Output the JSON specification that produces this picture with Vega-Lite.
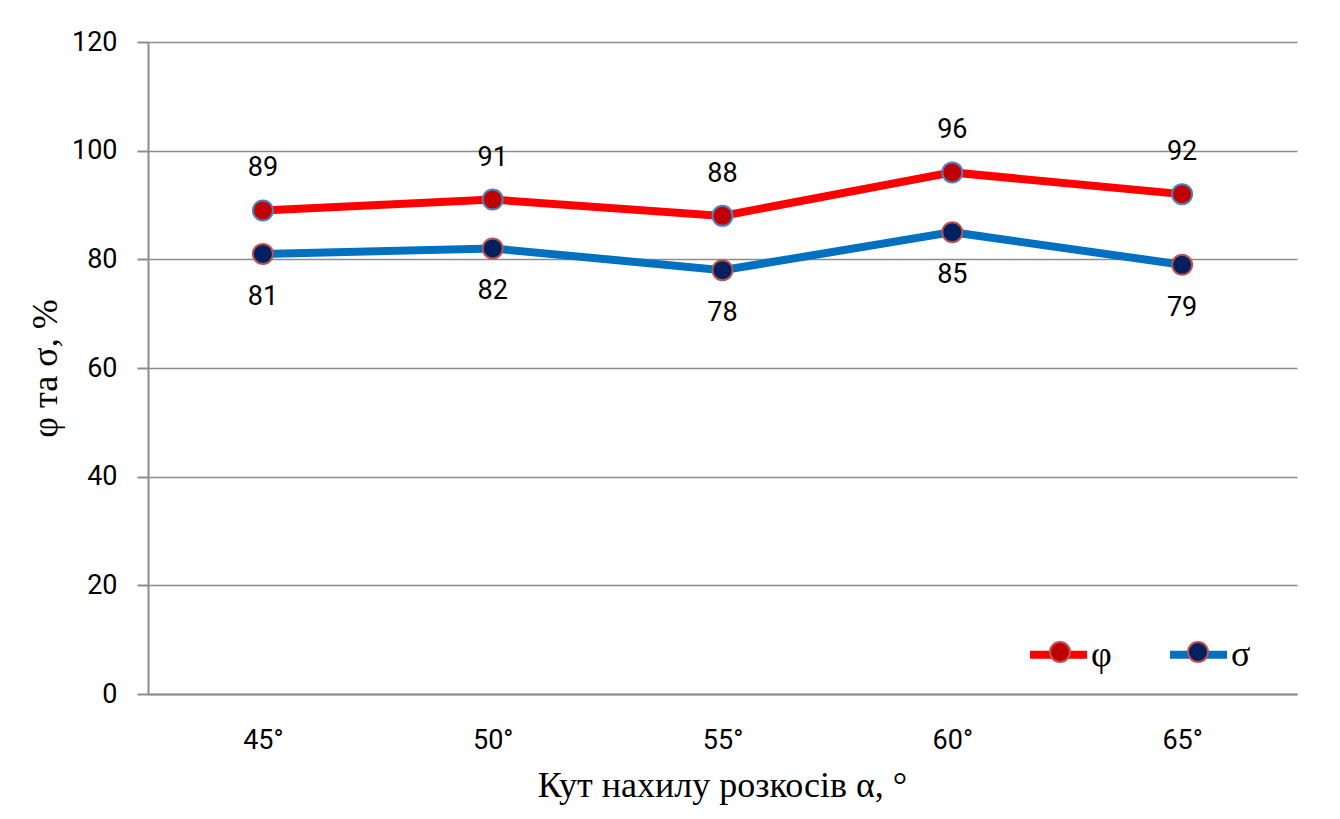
{
  "$schema": "https://vega.github.io/schema/vega-lite/v6.json",
  "autosize": "none",
  "width": 1149,
  "height": 652,
  "padding": {"left": 148, "top": 42, "right": 43, "bottom": 125},
  "background": "white",
  "config": {
    "view": {"stroke": null},
    "font": "Roboto"
  },
  "data": {
    "values": [
      {"angle": "45°", "series": "φ", "value": 89},
      {"angle": "50°", "series": "φ", "value": 91},
      {"angle": "55°", "series": "φ", "value": 88},
      {"angle": "60°", "series": "φ", "value": 96},
      {"angle": "65°", "series": "φ", "value": 92},
      {"angle": "45°", "series": "σ", "value": 81},
      {"angle": "50°", "series": "σ", "value": 82},
      {"angle": "55°", "series": "σ", "value": 78},
      {"angle": "60°", "series": "σ", "value": 85},
      {"angle": "65°", "series": "σ", "value": 79}
    ]
  },
  "encoding": {
    "x": {
      "field": "angle",
      "type": "nominal",
      "sort": ["45°", "50°", "55°", "60°", "65°"],
      "scale": {"type": "point", "padding": 0.5},
      "axis": {
        "title": "Кут нахилу розкосів α, °",
        "titleFont": "Liberation Serif",
        "titleFontSize": 36,
        "titleFontWeight": "normal",
        "titleColor": "black",
        "titleX": 574,
        "titleY": 91,
        "titleBaseline": "middle",
        "titleAlign": "center",
        "labelAngle": 0,
        "labelFont": "Roboto",
        "labelFontSize": 27,
        "labelColor": "black",
        "labelPadding": 33,
        "ticks": false,
        "domain": true,
        "domainColor": "#8c8c8c",
        "domainWidth": 2,
        "grid": false
      }
    },
    "y": {
      "field": "value",
      "type": "quantitative",
      "scale": {"domain": [0, 120], "nice": false},
      "axis": {
        "title": "φ та σ, %",
        "titleFont": "Liberation Serif",
        "titleFontSize": 36,
        "titleFontWeight": "normal",
        "titleColor": "black",
        "titleX": -103,
        "titleY": 326,
        "titleAlign": "center",
        "titleBaseline": "middle",
        "values": [0, 20, 40, 60, 80, 100, 120],
        "labelFont": "Roboto",
        "labelFontSize": 27,
        "labelColor": "black",
        "labelPadding": 20,
        "tickSize": 11,
        "tickColor": "#8c8c8c",
        "tickWidth": 2,
        "domainColor": "#8c8c8c",
        "domainWidth": 2,
        "grid": true,
        "gridColor": "#8c8c8c",
        "gridWidth": 1.5
      }
    }
  },
  "layer": [
    {
      "mark": {"type": "line", "strokeWidth": 8},
      "encoding": {
        "stroke": {
          "field": "series",
          "type": "nominal",
          "scale": {"domain": ["φ", "σ"], "range": ["#FF0000", "#0070C0"]},
          "legend": {
            "title": null,
            "orient": "none",
            "direction": "horizontal",
            "legendX": 878,
            "legendY": 580,
            "symbolType": "stroke",
            "symbolSize": 3249,
            "symbolStrokeWidth": 8,
            "labelFont": "Liberation Serif",
            "labelFontSize": 36,
            "labelColor": "black",
            "labelOffset": 0,
            "columnPadding": 42
          }
        }
      }
    },
    {
      "mark": {"type": "point", "filled": true, "size": 400, "strokeWidth": 2, "opacity": 1},
      "encoding": {
        "fill": {
          "field": "series",
          "type": "nominal",
          "scale": {"domain": ["φ", "σ"], "range": ["#C00000", "#002060"]},
          "legend": {
            "title": null,
            "orient": "none",
            "direction": "horizontal",
            "legendX": 894,
            "legendY": 592,
            "symbolType": "circle",
            "symbolSize": 400,
            "symbolStrokeWidth": 2,
            "symbolOpacity": 1,
            "labelFont": "Liberation Serif",
            "labelFontSize": 36,
            "labelExpr": "''",
            "labelOffset": 21,
            "columnPadding": 81,
            "encode": {
              "symbols": {
                "update": {
                  "stroke": {"signal": "datum.value === 'φ' ? '#4F81BD' : '#C0504D'"}
                }
              }
            }
          }
        },
        "stroke": {
          "condition": {"test": "datum.series === 'φ'", "value": "#4F81BD"},
          "value": "#C0504D"
        }
      }
    },
    {
      "transform": [{"filter": "datum.series === 'φ'"}],
      "mark": {"type": "text", "dy": -42, "fontSize": 27, "font": "Roboto", "color": "black"},
      "encoding": {"text": {"field": "value", "type": "quantitative"}}
    },
    {
      "transform": [{"filter": "datum.series === 'σ'"}],
      "mark": {"type": "text", "dy": 43, "fontSize": 27, "font": "Roboto", "color": "black"},
      "encoding": {"text": {"field": "value", "type": "quantitative"}}
    }
  ],
  "resolve": {"scale": {"stroke": "independent", "fill": "independent"}}
}
